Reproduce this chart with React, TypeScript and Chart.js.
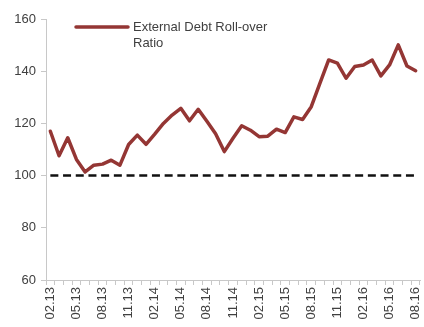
import React, { useEffect, useRef } from "react";
import { Chart, registerables } from "chart.js";

Chart.register(...registerables);

const months: string[] = [
  "02.13","03.13","04.13","05.13","06.13","07.13","08.13","09.13","10.13","11.13","12.13","01.14",
  "02.14","03.14","04.14","05.14","06.14","07.14","08.14","09.14","10.14","11.14","12.14","01.15",
  "02.15","03.15","04.15","05.15","06.15","07.15","08.15","09.15","10.15","11.15","12.15","01.16",
  "02.16","03.16","04.16","05.16","06.16","07.16","08.16",
];

const rollover: number[] = [
  117.0, 107.6, 114.5, 106.2, 101.4, 104.0, 104.4, 105.9, 104.0, 111.9, 115.5, 112.0,
  115.9, 120.0, 123.2, 125.8, 121.0, 125.4, 120.8, 116.0, 109.2, 114.3, 119.1, 117.4,
  114.9, 115.1, 117.8, 116.5, 122.5, 121.5, 126.4, 135.4, 144.3, 143.1, 137.3, 141.8,
  142.4, 144.3, 138.2, 142.4, 150.1, 142.0, 140.2,
];

const threshold: number[] = months.map(() => 100);

const seriesLabel: string[] = ["External Debt Roll-over", "Ratio"];
const yMin = 60;
const yMax = 160;
const yStep = 20;

const FONT = "'Liberation Sans', Arial, sans-serif";
const TEXT = "#404040";
const LINE = "#943634";

const legendPlugin = {
  id: "customLegend",
  afterDraw(chart: any) {
    const ctx = chart.ctx;
    ctx.save();
    ctx.strokeStyle = LINE;
    ctx.lineWidth = 3.5;
    ctx.lineCap = "round";
    ctx.beginPath();
    ctx.moveTo(76, 27);
    ctx.lineTo(128, 27);
    ctx.stroke();
    ctx.fillStyle = TEXT;
    ctx.font = `13px ${FONT}`;
    ctx.textBaseline = "middle";
    ctx.textAlign = "left";
    seriesLabel.forEach((t, i) => ctx.fillText(t, 133, 27 + i * 16));
    ctx.restore();
  },
};

export default function App() {
  const ref = useRef<HTMLCanvasElement | null>(null);
  useEffect(() => {
    if (!ref.current) return;
    const chart = new Chart(ref.current, {
      type: "line",
      data: {
        labels: months,
        datasets: [
          {
            label: seriesLabel.join(" "),
            data: rollover,
            borderColor: LINE,
            borderWidth: 3.5,
            pointRadius: 0,
            tension: 0,
            borderJoinStyle: "round",
            borderCapStyle: "round",
          },
          {
            label: "100",
            data: threshold,
            borderColor: "#111111",
            borderWidth: 2.5,
            borderDash: [8, 4.7],
            pointRadius: 0,
          },
        ],
      },
      options: {
        animation: false,
        responsive: false,
        maintainAspectRatio: false,
        layout: { padding: { top: 19, right: 4, left: 0, bottom: 0 } },
        plugins: { legend: { display: false }, tooltip: { enabled: false } },
        scales: {
          x: {
            offset: true,
            grid: {
              display: true,
              offset: true,
              drawOnChartArea: false,
              drawTicks: true,
              tickLength: 5,
              color: "#c8c8c8",
            },
            border: { display: true, color: "#c8c8c8", width: 1 },
            ticks: {
              autoSkip: false,
              maxRotation: 90,
              minRotation: 90,
              padding: 2,
              color: TEXT,
              font: { family: FONT, size: 13 },
              callback: (_v: any, i: number) => (i % 3 === 0 ? months[i] : ""),
            },
            afterFit: (s: any) => {
              s.height = 47;
              s.paddingLeft = 0;
              s.paddingRight = 0;
            },
          },
          y: {
            min: yMin,
            max: yMax,
            grid: {
              display: true,
              drawOnChartArea: false,
              drawTicks: true,
              tickLength: 5,
              color: "#c8c8c8",
            },
            border: { display: true, color: "#c8c8c8", width: 1 },
            ticks: {
              stepSize: yStep,
              padding: 5,
              color: TEXT,
              font: { family: FONT, size: 13 },
            },
            afterFit: (s: any) => {
              s.width = 46;
              s.paddingTop = 0;
              s.paddingBottom = 0;
            },
          },
        },
      },
      plugins: [legendPlugin],
    });
    return () => chart.destroy();
  }, []);
  return (
    <div style={{ position: "fixed", left: 0, top: 0, width: 424, height: 327, background: "#fff" }}>
      <canvas ref={ref} width={424} height={327} style={{ width: 424, height: 327, display: "block" }} />
    </div>
  );
}
